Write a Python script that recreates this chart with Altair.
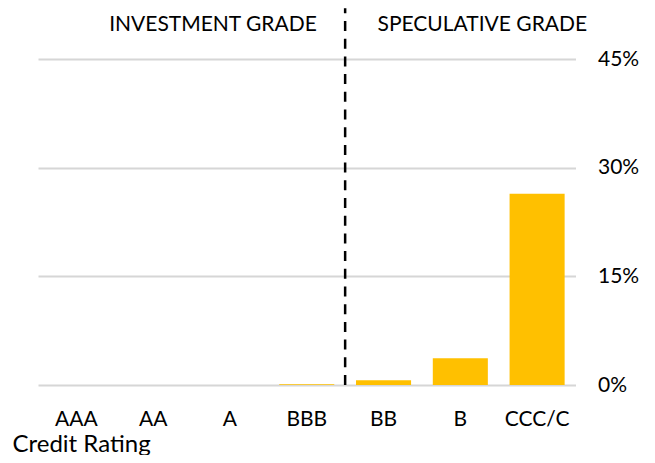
import altair as alt
import pandas as pd

ratings = ["AAA", "AA", "A", "BBB", "BB", "B", "CCC/C"]
default_rates = [0.0, 0.0, 0.0, 0.001, 0.0065, 0.037, 0.264]
y_ticks = [0.0, 0.15, 0.30, 0.45]
divider_rating = ["BB"]
group_labels = ["INVESTMENT GRADE", "SPECULATIVE GRADE"]
group_anchor = ["A", "B"]

FONT = "Lato"
GOLD = "#FFC000"
PAD_INNER = 0.283
PLOT_W = 537.5
PLOT_H = 326

bars_df = pd.DataFrame({"rating": ratings, "rate": default_rates})
div_df = pd.DataFrame({"rating": divider_rating})
lab_df = pd.DataFrame({"rating": group_anchor, "label": group_labels})

x_scale = alt.Scale(domain=ratings, paddingInner=PAD_INNER, paddingOuter=PAD_INNER / 2)
y_scale = alt.Scale(domain=[0, 0.45])

bars = alt.Chart(bars_df).mark_bar(color=GOLD).encode(
    x=alt.X(
        "rating:N",
        scale=x_scale,
        sort=ratings,
        axis=alt.Axis(
            title="Credit Rating",
            labelAngle=0,
            labelFont=FONT,
            labelFontSize=21,
            labelColor="#000000",
            labelPadding=23,
            ticks=False,
            tickSize=0,
            domain=False,
            grid=False,
            titleFont=FONT,
            titleFontSize=24,
            titleFontWeight="normal",
            titleColor="#000000",
            titleAnchor="start",
            titleAlign="left",
            titleBaseline="alphabetic",
            titleX=-26,
            titleY=66,
        ),
    ),
    y=alt.Y(
        "rate:Q",
        scale=y_scale,
        axis=alt.Axis(
            orient="right",
            values=y_ticks,
            format=".0%",
            title=None,
            labelFont=FONT,
            labelFontSize=21,
            labelColor="#000000",
            labelPadding=22,
            ticks=False,
            tickSize=0,
            domain=False,
            grid=True,
            gridColor="#d6d6d6",
            gridWidth=1.8,
        ),
    ),
)

# divider sits on the boundary between the BBB and BB steps
step = PLOT_W / len(ratings)
divider = alt.Chart(div_df).mark_rule(
    color="#000000", strokeWidth=2.5, strokeDash=[10, 7.7], xOffset=-(PAD_INNER / 2) * step
).encode(
    x=alt.X("rating:N", scale=x_scale, bandPosition=0),
    y=alt.datum(0.0, scale=y_scale),
    y2=alt.datum(0.52),
)


def group_label(anchor, dx):
    return alt.Chart(lab_df[lab_df["rating"] == anchor]).mark_text(
        font=FONT, fontSize=21, color="#000000", align="center", baseline="alphabetic", dx=dx
    ).encode(
        x=alt.X("rating:N", scale=x_scale, bandPosition=0.5),
        y=alt.datum(0.489),
        text="label:N",
    )


labels = alt.layer(group_label("A", -17), group_label("B", 22))

chart = alt.layer(bars, divider, labels).properties(
    width=PLOT_W,
    height=PLOT_H,
    background="#ffffff",
    autosize=alt.AutoSizeParams(type="none"),
    padding={"left": 30, "top": 51, "right": 71, "bottom": 70},
).configure_view(strokeWidth=0, stroke="transparent")

chart.save("out.html", embed_options={"renderer": "svg", "actions": False})
